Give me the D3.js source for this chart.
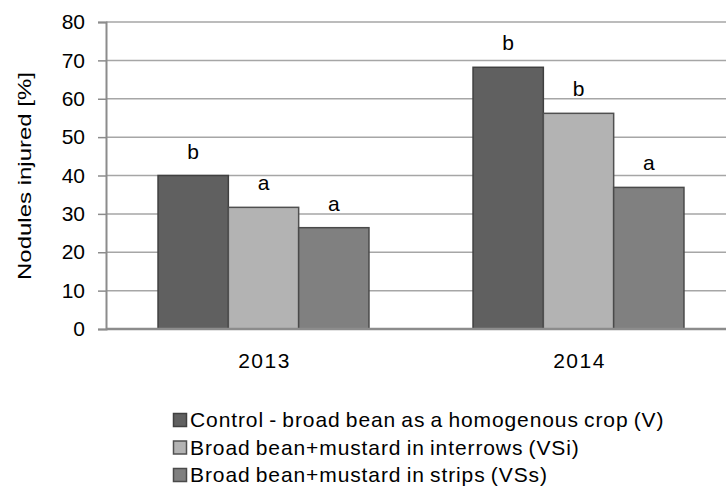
<!DOCTYPE html>
<html>
<head>
<meta charset="utf-8">
<script src="https://cdnjs.cloudflare.com/ajax/libs/d3/7.8.5/d3.min.js"></script>
<style>
  body { margin: 0; background: #fff; }
  svg text { font-family: "Liberation Sans", Arial, sans-serif; fill: #000; }
</style>
</head>
<body>
<div class="chart"></div>
<script>
const years = ['2013', '2014']
const series = [
  'Control - broad bean as a homogenous crop (V)',
  'Broad bean+mustard in interrows (VSi)',
  'Broad bean+mustard in strips (VSs)'
]
const values = [
  [40.0, 31.7, 26.4],
  [68.2, 56.2, 36.9]
]
const letters = [
  ['b', 'a', 'a'],
  ['b', 'b', 'a']
]
const yTicks = [0, 10, 20, 30, 40, 50, 60, 70, 80]

const colors = ['#606060', '#b3b3b3', '#808080']
const strokes = ['#404040', '#505050', '#4a4a4a']

let w = 726,
    h = 486,
    mLeft = 106,
    mTop = 22,
    mBottom = 329

const svg = d3.select('.chart')
              .append('svg')
              .attr('width', w)
              .attr('height', h)

const y = d3.scaleLinear().domain([0, 80]).range([mBottom, mTop])
const x0 = d3.scaleBand().domain(years).range([mLeft, mLeft + 630])
const x1 = d3.scaleBand().domain(d3.range(series.length))
             .range([0, x0.bandwidth()]).paddingOuter(0.74)

// gridlines
svg.append('g')
   .selectAll('line')
   .data(yTicks.filter(d => d > 0))
   .enter()
   .append('line')
   .attr('x1', mLeft)
   .attr('x2', w)
   .attr('y1', d => y(d))
   .attr('y2', d => y(d))
   .attr('stroke', '#a6a6a6')
   .attr('stroke-width', 1.5)

const yAxis = d3.axisLeft(y).tickValues(yTicks).tickSize(8).tickPadding(13)
const gy = svg.append('g')
              .attr('transform', `translate(${mLeft},0)`)
              .call(yAxis)
gy.select('.domain').attr('stroke', '#8c8c8c').attr('stroke-width', 2)
gy.selectAll('.tick line').attr('stroke', '#8c8c8c').attr('stroke-width', 1.5)
gy.selectAll('.tick text').style('font-size', '21px').attr('fill', '#000')
  .attr('font-family', 'Liberation Sans, Arial, sans-serif')

// bars
years.forEach((yr, i) => {
  const g = svg.append('g').attr('transform', `translate(${x0(yr)},0)`)
  g.selectAll('rect')
   .data(values[i])
   .enter()
   .append('rect')
   .attr('x', (d, j) => x1(j))
   .attr('y', d => y(d))
   .attr('width', x1.bandwidth())
   .attr('height', d => y(0) - y(d))
   .attr('fill', (d, j) => colors[j])
   .attr('stroke', (d, j) => strokes[j])
   .attr('stroke-width', 1.5)
  g.selectAll('text')
   .data(values[i])
   .enter()
   .append('text')
   .attr('x', (d, j) => x1(j) + x1.bandwidth() / 2)
   .attr('y', d => y(d) - 17)
   .attr('text-anchor', 'middle')
   .style('font-size', '21px')
   .text((d, j) => letters[i][j])
})

// x axis
svg.append('line')
   .attr('x1', mLeft)
   .attr('x2', w)
   .attr('y1', mBottom)
   .attr('y2', mBottom)
   .attr('stroke', '#8c8c8c')
   .attr('stroke-width', 2.5)
svg.append('g')
   .selectAll('text')
   .data(years)
   .enter()
   .append('text')
   .attr('x', d => x0(d) + x0.bandwidth() / 2 + 1)
   .attr('y', 368)
   .attr('text-anchor', 'middle')
   .style('font-size', '21px')
   .style('letter-spacing', '1.5px')
   .text(d => d)

// y title
svg.append('text')
   .attr('transform', 'translate(31,176) rotate(-90)')
   .attr('text-anchor', 'middle')
   .style('font-size', '19px')
   .attr('textLength', 208)
   .attr('lengthAdjust', 'spacingAndGlyphs')
   .text('Nodules injured [%]')

// legend
const legend = svg.append('g').attr('transform', 'translate(173,413)')
series.forEach((s, i) => {
  legend.append('rect')
        .attr('x', 0.5)
        .attr('y', i * 27.5 + 0.5)
        .attr('width', 13)
        .attr('height', 13)
        .attr('fill', colors[i])
        .attr('stroke', strokes[i])
        .attr('stroke-width', 1.5)
  legend.append('text')
        .attr('x', 17)
        .attr('y', i * 27.5 + 14)
        .style('font-size', '21px')
        .style('letter-spacing', '0.9px')
        .style('word-spacing', '-1.5px')
        .text(s)
})
</script>
</body>
</html>
